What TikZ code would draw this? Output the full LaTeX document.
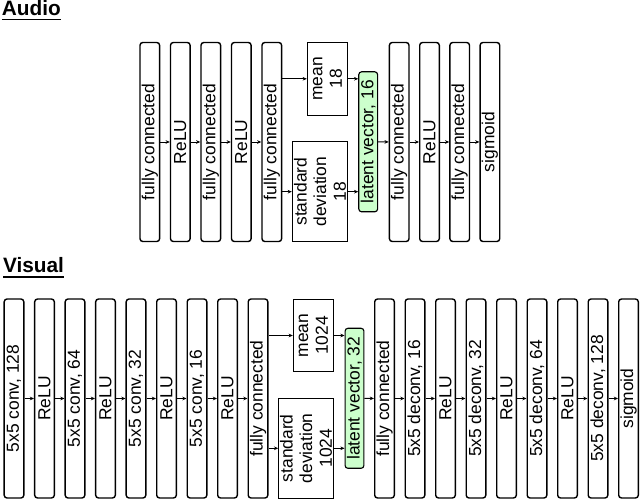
\documentclass[tikz,border=0pt]{standalone}
\usepackage{fontspec}
\setmainfont{Liberation Sans}
\usetikzlibrary{arrows.meta}

\definecolor{latgreen}{HTML}{CCFFCC}
\newcommand\headline[1]{\setbox0\hbox{#1}\rlap{\rule[-3.3pt]{\wd0}{1.1pt}}\box0}

\begin{document}
\begin{tikzpicture}[
  lyr/.style={rectangle,draw,line width=1pt,rounded corners=2pt,rotate=90, minimum width=4.975cm,minimum height=0.49cm,inner sep=0pt,font=\fontsize{12.4}{14}\selectfont},
  stat/.style={rectangle,draw,line width=0.7pt,rotate=90,align=center,inner sep=0pt,font=\fontsize{12.4}{14}\selectfont},
  lat/.style={rectangle,draw,line width=0.8pt,fill=latgreen,rounded corners=2pt,rotate=90, minimum width=3.5cm,minimum height=0.47cm,inner sep=0pt,font=\fontsize{12.4}{14}\selectfont},
  head/.style={font=\fontsize{14.8}{16}\selectfont\bfseries,anchor=base west,inner sep=0pt},
  flow/.style={-{Stealth[length=3pt,width=2.6pt]},line width=0.7pt}
]
  \useasboundingbox (0,0) rectangle (16,12.475);

  % audio
  \node[head] (audio) at (0.04,12.08) {\headline{Audio}};
  \node[lyr](a1) at (3.745,8.925)  {fully connected};
  \node[lyr](a2) at (4.5075,8.925) {ReLU};
  \node[lyr](a3) at (5.27,8.925)   {fully connected};
  \node[lyr](a4) at (6.0325,8.925) {ReLU};
  \node[lyr](a5) at (6.795,8.925)  {fully connected};
  \node[stat,minimum width=1.81cm,minimum height=1.01cm](amean) at (8.1875,10.505) {mean\\18};
  \node[stat,minimum width=2.5cm,minimum height=1.385cm](astd) at (8.0,7.6825) {standard\\deviation\\18};
  \node[lat](alat) at (9.205,8.93) {latent vector, 16};
  \node[lyr](a6) at (9.98,8.925)    {fully connected};
  \node[lyr](a7) at (10.7375,8.925) {ReLU};
  \node[lyr](a8) at (11.4925,8.925) {fully connected};
  \node[lyr](a9) at (12.2475,8.925) {sigmoid};

  \draw[flow](a1)--(a2); \draw[flow](a2)--(a3);
  \draw[flow](a3)--(a4); \draw[flow](a4)--(a5);
  \draw[flow](a5.south |- amean.center)--(amean.north);
  \draw[flow](a5.south |- astd.center)--(astd.north);
  \draw[flow](amean.south)--(amean.south -| alat.north);
  \draw[flow](astd.south)--(astd.south -| alat.north);
  \draw[flow](alat)--(a6); \draw[flow](a6)--(a7);
  \draw[flow](a7)--(a8); \draw[flow](a8)--(a9);

  % visual
  \node[head] (visual) at (0.07,5.65) {\headline{Visual}};
  \node[lyr](v1) at (0.35,2.5125)   {5x5 conv, 128};
  \node[lyr](v2) at (1.1125,2.5125) {ReLU};
  \node[lyr](v3) at (1.875,2.5125)  {5x5 conv, 64};
  \node[lyr](v4) at (2.6375,2.5125) {ReLU};
  \node[lyr](v5) at (3.4,2.5125)    {5x5 conv, 32};
  \node[lyr](v6) at (4.1625,2.5125) {ReLU};
  \node[lyr](v7) at (4.925,2.5125)  {5x5 conv, 16};
  \node[lyr](v8) at (5.6875,2.5125) {ReLU};
  \node[lyr](v9) at (6.45,2.5125)   {fully connected};
  \node[stat,minimum width=1.81cm,minimum height=1.0cm](vmean) at (7.8325,4.0875) {mean\\1024};
  \node[stat,minimum width=2.5cm,minimum height=1.365cm](vstd) at (7.65,1.2675) {standard\\deviation\\1024};
  \node[lat](vlat) at (8.8625,2.5175) {latent vector, 32};
  \node[lyr](w1) at (9.6125,2.5125)  {fully connected};
  \node[lyr](w2) at (10.375,2.5125)  {5x5 deconv, 16};
  \node[lyr](w3) at (11.1375,2.5125) {ReLU};
  \node[lyr](w4) at (11.9,2.5125)    {5x5 deconv, 32};
  \node[lyr](w5) at (12.6625,2.5125) {ReLU};
  \node[lyr](w6) at (13.425,2.5125)  {5x5 deconv, 64};
  \node[lyr](w7) at (14.1875,2.5125) {ReLU};
  \node[lyr](w8) at (14.95,2.5125)   {5x5 deconv, 128};
  \node[lyr](w9) at (15.7125,2.5125) {sigmoid};

  \draw[flow](v1)--(v2); \draw[flow](v2)--(v3); \draw[flow](v3)--(v4);
  \draw[flow](v4)--(v5); \draw[flow](v5)--(v6); \draw[flow](v6)--(v7);
  \draw[flow](v7)--(v8); \draw[flow](v8)--(v9);
  \draw[flow](v9.south |- vmean.center)--(vmean.north);
  \draw[flow](v9.south |- vstd.center)--(vstd.north);
  \draw[flow](vmean.south)--(vmean.south -| vlat.north);
  \draw[flow](vstd.south)--(vstd.south -| vlat.north);
  \draw[flow](vlat)--(w1); \draw[flow](w1)--(w2); \draw[flow](w2)--(w3);
  \draw[flow](w3)--(w4); \draw[flow](w4)--(w5); \draw[flow](w5)--(w6);
  \draw[flow](w6)--(w7); \draw[flow](w7)--(w8); \draw[flow](w8)--(w9);
\end{tikzpicture}
\end{document}
